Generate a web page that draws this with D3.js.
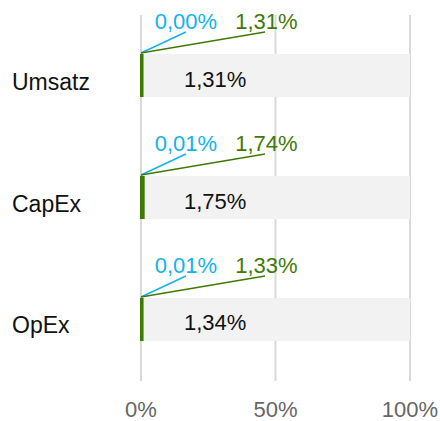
<!DOCTYPE html>
<html>
<head>
<meta charset="utf-8">
<script src="https://cdn.jsdelivr.net/npm/d3@7"></script>
<style>
  body { margin: 0; background: #fff; }
  text { font-family: "Liberation Sans", Arial, sans-serif; }
</style>
</head>
<body>
<svg id="chart"></svg>
<script>
// data
const categories = ["Umsatz", "CapEx", "OpEx"];
const totalValues = [1.31, 1.75, 1.34];
const eligibleValues = [0.00, 0.01, 0.01];
const alignedValues = [1.31, 1.74, 1.33];
const xTicks = [0, 50, 100];

const W = 440, H = 421;
const svg = d3.select("#chart").attr("width", W).attr("height", H);

const x = d3.scaleLinear().domain([0, 100]).range([141, 410]);
const y = d3.scaleBand().domain(categories).range([54, 341]).paddingInner(0.6475).paddingOuter(0);
const fmt = v => d3.format(".2f")(v).replace(".", ",") + "%";
const rows = categories.map((c, i) => ({ c, total: totalValues[i], elig: eligibleValues[i], align: alignedValues[i] }));
const fs = 22;

// gridlines
svg.append("g").selectAll("line").data(xTicks).join("line")
  .attr("x1", d => x(d)).attr("x2", d => x(d)).attr("y1", 15).attr("y2", 381)
  .attr("stroke", "#d9d9d9").attr("stroke-width", 2);

// tick labels
svg.append("g").selectAll("text").data(xTicks).join("text")
  .attr("x", d => x(d)).attr("y", 417).attr("text-anchor", "middle")
  .attr("fill", "#666").attr("font-size", fs).text(d => d + "%");

const g = svg.append("g").selectAll("g").data(rows).join("g");

g.append("rect").attr("x", x(0)).attr("y", d => y(d.c)).attr("width", x(100) - x(0))
  .attr("height", y.bandwidth()).attr("fill", "#f2f2f2");
g.append("rect").attr("x", x(0) - 1).attr("y", d => y(d.c)).attr("width", d => Math.max(3, x(d.align) - x(0)))
  .attr("height", y.bandwidth()).attr("fill", "#3f7a06");

g.append("text").attr("x", x(0) + 43).attr("y", d => y(d.c) + y.bandwidth() / 2 + 11)
  .attr("font-size", fs).attr("fill", "#111").text(d => fmt(d.total));

g.append("text").attr("x", 12).attr("y", d => y(d.c) + y.bandwidth() / 2 + 14)
  .attr("font-size", 23).attr("fill", "#111").text(d => d.c);

// leader lines and labels
g.append("line").attr("x1", x(0)).attr("y1", d => y(d.c) - 1)
  .attr("x2", x(16.7)).attr("y2", d => y(d.c) - 22)
  .attr("stroke", "#12b3eb").attr("stroke-width", 1.5);
g.append("line").attr("x1", x(0)).attr("y1", d => y(d.c) - 1)
  .attr("x2", x(46.1)).attr("y2", d => y(d.c) - 22)
  .attr("stroke", "#3f7a06").attr("stroke-width", 1.5);

g.append("text").attr("x", x(16.7)).attr("y", d => y(d.c) - 25).attr("text-anchor", "middle")
  .attr("font-size", fs).attr("fill", "#12b3eb").text(d => fmt(d.elig));
g.append("text").attr("x", x(46.6)).attr("y", d => y(d.c) - 25).attr("text-anchor", "middle")
  .attr("font-size", fs).attr("fill", "#3f7a06").text(d => fmt(d.align));
</script>
</body>
</html>
